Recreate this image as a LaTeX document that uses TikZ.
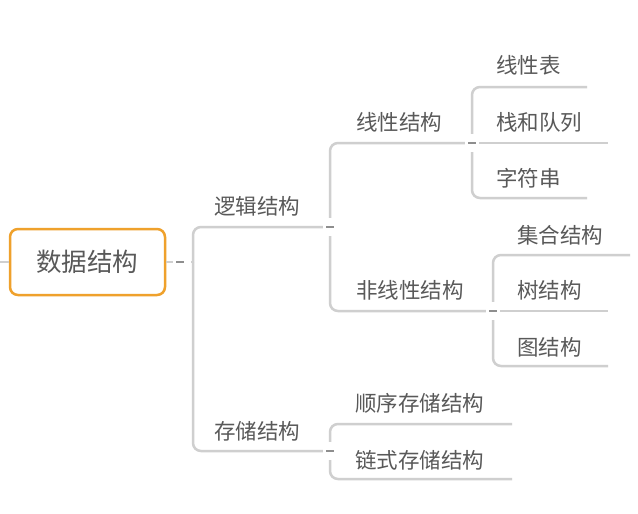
\documentclass[tikz,border=0pt]{standalone}
\usepackage{fontspec}
\setmainfont{Noto Sans CJK SC}
\definecolor{linec}{HTML}{CFCFCF}
\definecolor{dashc}{HTML}{8E8E8E}
\definecolor{textc}{HTML}{595959}
\definecolor{rootc}{HTML}{EFA12C}
\tikzset{
  conn/.style={draw=linec, line width=2.5pt, rounded corners=8pt},
  topic/.style={anchor=west, inner sep=0pt, text=textc, font=\fontsize{21.5}{26}\selectfont},
  rootbox/.style={draw=rootc, line width=2.5pt, rounded corners=8pt, fill=white,
    minimum width=155pt, minimum height=66pt, inner sep=0pt, text=textc,
    font=\fontsize{25.5}{30}\selectfont},
  marker/.style={fill=white, inner sep=0pt, minimum width=14pt, minimum height=18pt,
    path picture={\draw[dashc, line width=2.5pt]
      ([xshift=-4pt]path picture bounding box.center) -- ([xshift=4pt]path picture bounding box.center);}},
  rootmarker/.style={fill=white, inner sep=0pt, minimum width=18pt, minimum height=18pt,
    path picture={\draw[dashc, line width=2.5pt]
      ([xshift=-6pt]path picture bounding box.center) -- ([xshift=2pt]path picture bounding box.center);}}
}
\begin{document}
\begin{tikzpicture}[x=1pt,y=-1pt]
\useasboundingbox[fill=white] (0,0) rectangle (638,514);
% root
\node[rootbox] (root) at (87.5,262) {数据结构};
\coordinate (leftend) at (0,262);
\coordinate (jRoot) at (193,262);
% junctions
\coordinate (jLogic) at (330,227);
\coordinate (jStore) at (330,451);
\coordinate (jLin) at (472,143);
\coordinate (jNon) at (493,311);
% underline ends
\coordinate (eXianxing) at (587,87);
\coordinate (eZhan) at (608,143);
\coordinate (eZifu) at (587,198);
\coordinate (eJihe) at (630,255);
\coordinate (eShu) at (608,311);
\coordinate (eTu) at (608,366);
\coordinate (eShunxu) at (512,424);
\coordinate (eLianshi) at (512,479);
% connectors
\draw[conn] (leftend) -- (root.west);
\draw[conn] (root.east) -- (jRoot);
\draw[conn] (jRoot) |- (jLogic);
\draw[conn] (jRoot) |- (jStore);
\draw[conn] (jLogic) |- (jLin);
\draw[conn] (jLogic) |- (jNon);
\draw[conn] (jLin) |- (eXianxing);
\draw[conn] (jLin) -- (eZhan);
\draw[conn] (jLin) |- (eZifu);
\draw[conn] (jNon) |- (eJihe);
\draw[conn] (jNon) -- (eShu);
\draw[conn] (jNon) |- (eTu);
\draw[conn] (jStore) |- (eShunxu);
\draw[conn] (jStore) |- (eLianshi);
% collapse markers
\node[rootmarker] (mRoot) at (182,262) {};
\node[marker] (mLogic) at (jLogic) {};
\node[marker] (mStore) at (jStore) {};
\node[marker] (mLin) at (jLin) {};
\node[marker] (mNon) at (jNon) {};
% topics
\node[topic] (tLogic) at (214,206) {逻辑结构};
\node[topic] (tStore) at (214,431) {存储结构};
\node[topic] (tLin) at (356,122) {线性结构};
\node[topic] (tNon) at (356,290) {非线性结构};
\node[topic] (tShunxu) at (355,403) {顺序存储结构};
\node[topic] (tLianshi) at (355,460) {链式存储结构};
\node[topic] (tXianxing) at (496,65) {线性表};
\node[topic] (tZhan) at (496,122) {栈和队列};
\node[topic] (tZifu) at (496,178) {字符串};
\node[topic] (tJihe) at (517,235) {集合结构};
\node[topic] (tShu) at (517,290) {树结构};
\node[topic] (tTu) at (517,347) {图结构};
\end{tikzpicture}
\end{document}
